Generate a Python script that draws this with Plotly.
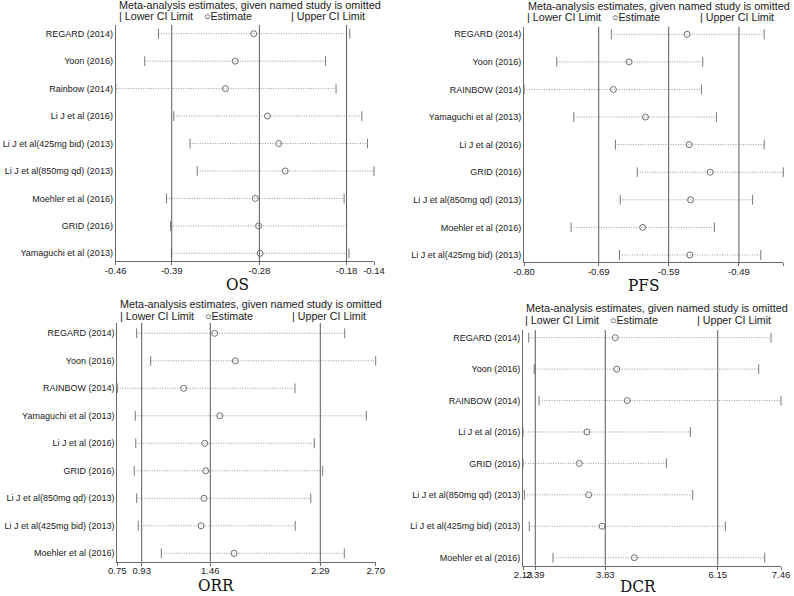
import plotly.graph_objects as go

W, H = 794, 596

# ---------------- data ----------------
os_studies = ["REGARD (2014)", "Yoon (2016)", "Rainbow (2014)", "Li J et al (2016)",
              "Li J et al(425mg bid) (2013)", "Li J et al(850mg qd) (2013)",
              "Moehler et al (2016)", "GRID (2016)", "Yamaguchi et al (2013)"]
os_est = [-0.289, -0.312, -0.324, -0.272, -0.258, -0.250, -0.287, -0.283, -0.281]
os_lower = [-0.407, -0.424, -0.460, -0.388, -0.368, -0.359, -0.397, -0.392, -0.391]
os_upper = [-0.170, -0.200, -0.187, -0.155, -0.148, -0.140, -0.177, -0.174, -0.171]
os_ticks = [-0.46, -0.3906, -0.282, -0.174, -0.14]
os_ticklabels = ["-0.46", "-0.39", "-0.28", "-0.18", "-0.14"]

pfs_studies = ["REGARD (2014)", "Yoon (2016)", "RAINBOW (2014)", "Yamaguchi et al (2013)",
               "Li J et al (2016)", "GRID (2016)", "Li J et al(850mg qd) (2013)",
               "Moehler et al (2016)", "Li J et al(425mg bid) (2013)"]
pfs_est = [-0.561, -0.646, -0.669, -0.622, -0.558, -0.527, -0.556, -0.626, -0.557]
pfs_lower = [-0.672, -0.752, -0.800, -0.727, -0.666, -0.634, -0.659, -0.731, -0.660]
pfs_upper = [-0.448, -0.538, -0.540, -0.518, -0.448, -0.420, -0.465, -0.521, -0.453]
pfs_ticks = [-0.80, -0.6905, -0.588, -0.485, -0.42]
pfs_ticklabels = ["-0.80", "-0.69", "-0.59", "-0.49", "-0.42"]

orr_studies = ["REGARD (2014)", "Yoon (2016)", "RAINBOW (2014)", "Yamaguchi et al (2013)",
               "Li J et al (2016)", "GRID (2016)", "Li J et al(850mg qd) (2013)",
               "Li J et al(425mg bid) (2013)", "Moehler et al (2016)"]
orr_est = [1.485, 1.641, 1.251, 1.523, 1.410, 1.417, 1.404, 1.382, 1.631]
orr_lower = [0.896, 1.002, 0.750, 0.886, 0.889, 0.878, 0.896, 0.908, 1.082]
orr_upper = [2.466, 2.700, 2.091, 2.629, 2.237, 2.300, 2.210, 2.093, 2.463]
orr_ticks = [0.75, 0.934, 1.452, 2.282, 2.70]
orr_ticklabels = ["0.75", "0.93", "1.46", "2.29", "2.70"]

dcr_studies = ["REGARD (2014)", "Yoon (2016)", "RAINBOW (2014)", "Li J et al (2016)",
               "GRID (2016)", "Li J et al(850mg qd) (2013)", "Li J et al(425mg bid) (2013)",
               "Moehler et al (2016)"]
dcr_est = [4.037, 4.066, 4.285, 3.452, 3.294, 3.487, 3.762, 4.430]
dcr_lower = [2.248, 2.363, 2.461, 2.130, 2.130, 2.157, 2.260, 2.750]
dcr_upper = [7.254, 7.000, 7.460, 5.587, 5.091, 5.636, 6.310, 7.124]
dcr_ticks = [2.13, 2.384, 3.83, 6.153, 7.46]
dcr_ticklabels = ["2.13", "2.39", "3.83", "6.15", "7.46"]

legend_title = "Meta-analysis estimates, given named study is omitted"
legend_items = ["| Lower CI Limit", "\u25cbEstimate", "| Upper CI Limit"]

# ---------------- layout spec (pixels) ----------------
panels = [
    dict(name="OS", studies=os_studies, est=os_est, lo=os_lower, hi=os_upper,
         ticks=os_ticks, labels=os_ticklabels,
         px=(115.7, 374.0), py=(25.0, 261.3), yr=(9.29, 0.683),
         leg_y=(4.5, 15.7), leg_x=(117, 117, 202, 289), title_xy=(237, 284)),
    dict(name="PFS", studies=pfs_studies, est=pfs_est, lo=pfs_lower, hi=pfs_upper,
         ticks=pfs_ticks, labels=pfs_ticklabels,
         px=(524.0, 783.3), py=(26.7, 262.3), yr=(9.265, 0.725),
         leg_y=(5.5, 16.7), leg_x=(526, 525, 610, 698), title_xy=(643, 285)),
    dict(name="ORR", studies=orr_studies, est=orr_est, lo=orr_lower, hi=orr_upper,
         ticks=orr_ticks, labels=orr_ticklabels,
         px=(117.3, 375.7), py=(323.0, 561.7), yr=(9.305, 0.625),
         leg_y=(304, 316), leg_x=(118, 118, 203, 290), title_xy=(215.5, 585)),
    dict(name="DCR", studies=dcr_studies, est=dcr_est, lo=dcr_lower, hi=dcr_upper,
         ticks=dcr_ticks, labels=dcr_ticklabels,
         px=(523.0, 781.0), py=(330.0, 565.7), yr=(8.255, 0.755),
         leg_y=(308.3, 320), leg_x=(524, 523, 608, 695), title_xy=(638, 586)),
]

FONT = "Liberation Sans, Arial, sans-serif"
TXT = "#1a1a1a"
fig = go.Figure()
annotations = []
shapes = []

for k, p in enumerate(panels, start=1):
    xa = "x" if k == 1 else f"x{k}"
    ya = "y" if k == 1 else f"y{k}"
    n = len(p["studies"])
    rows = list(range(1, n + 1))

    # dotted CI lines
    lx, ly = [], []
    for r, l, h in zip(rows, p["lo"], p["hi"]):
        lx += [l, h, None]
        ly += [r, r, None]
    fig.add_trace(go.Scatter(x=lx, y=ly, mode="lines", xaxis=xa, yaxis=ya,
                             line=dict(color="#9a9a9a", width=1, dash="1px,1.5px"),
                             hoverinfo="skip", showlegend=False, cliponaxis=False))
    # caps
    fig.add_trace(go.Scatter(x=p["lo"] + p["hi"], y=rows + rows, mode="markers",
                             xaxis=xa, yaxis=ya, cliponaxis=False,
                             marker=dict(symbol="line-ns", size=7,
                                         line=dict(color="#7a7a7a", width=1)),
                             showlegend=False))
    # estimates
    fig.add_trace(go.Scatter(x=p["est"], y=rows, mode="markers", xaxis=xa, yaxis=ya,
                             marker=dict(symbol="circle-open", size=6,
                                         color="#6e6e6e", line=dict(width=1)),
                             showlegend=False))

    x0, x1 = p["px"][0] / W, p["px"][1] / W
    y0, y1 = 1 - p["py"][1] / H, 1 - p["py"][0] / H
    lo_t, hi_t = p["ticks"][0], p["ticks"][-1]

    fig.update_layout(**{
        ("xaxis" if k == 1 else f"xaxis{k}"): dict(
            domain=[x0, x1], anchor=ya, range=[lo_t, hi_t], automargin=False,
            tickvals=p["ticks"], ticktext=p["labels"], showgrid=False, zeroline=False,
            showline=True, linecolor="#6a6a6a", linewidth=1, tickangle=0,
            ticks="outside", ticklen=3, tickcolor="#6a6a6a", ticklabelstandoff=-3,
            tickfont=dict(family=FONT, size=9.5, color=TXT)),
        ("yaxis" if k == 1 else f"yaxis{k}"): dict(
            domain=[y0, y1], anchor=xa, range=list(p["yr"]), automargin=False,
            tickvals=rows, ticktext=p["studies"], showgrid=False, zeroline=False,
            showline=True, linecolor="#6a6a6a", linewidth=1, ticks="",
            tickfont=dict(family=FONT, size=9, color=TXT)),
    })

    # reference lines (pooled estimate and CI)
    for v in p["ticks"][1:4]:
        shapes.append(dict(type="line", xref=xa, yref=f"{ya} domain", x0=v, x1=v,
                           y0=0, y1=1, line=dict(color="#5a5a5a", width=1)))

    # legend-like header
    ty, ly_ = p["leg_y"]
    annotations.append(dict(text=legend_title, x=p["leg_x"][0] / W, y=1 - ty / H,
                            xref="paper", yref="paper", xanchor="left", yanchor="middle",
                            showarrow=False, font=dict(family=FONT, size=10.8, color=TXT)))
    for txt, xx in zip(legend_items, p["leg_x"][1:]):
        annotations.append(dict(text=txt, x=xx / W, y=1 - ly_ / H,
                                xref="paper", yref="paper", xanchor="left", yanchor="middle",
                                showarrow=False, font=dict(family=FONT, size=10.7, color=TXT)))
    # panel title
    tx, tyy = p["title_xy"]
    annotations.append(dict(text=p["name"], x=tx / W, y=1 - tyy / H,
                            xref="paper", yref="paper", xanchor="center", yanchor="middle",
                            showarrow=False,
                            font=dict(family="DejaVu Serif Condensed, Liberation Serif, serif",
                                      size=17, color="#111111")))

fig.update_layout(width=W, height=H, margin=dict(l=0, r=0, t=0, b=0),
                  plot_bgcolor="white", paper_bgcolor="white",
                  shapes=shapes, annotations=annotations, showlegend=False)

fig.write_html("out.html", config={"displayModeBar": False},
               post_script="document.body.style.margin='0';document.body.style.padding='0';")
